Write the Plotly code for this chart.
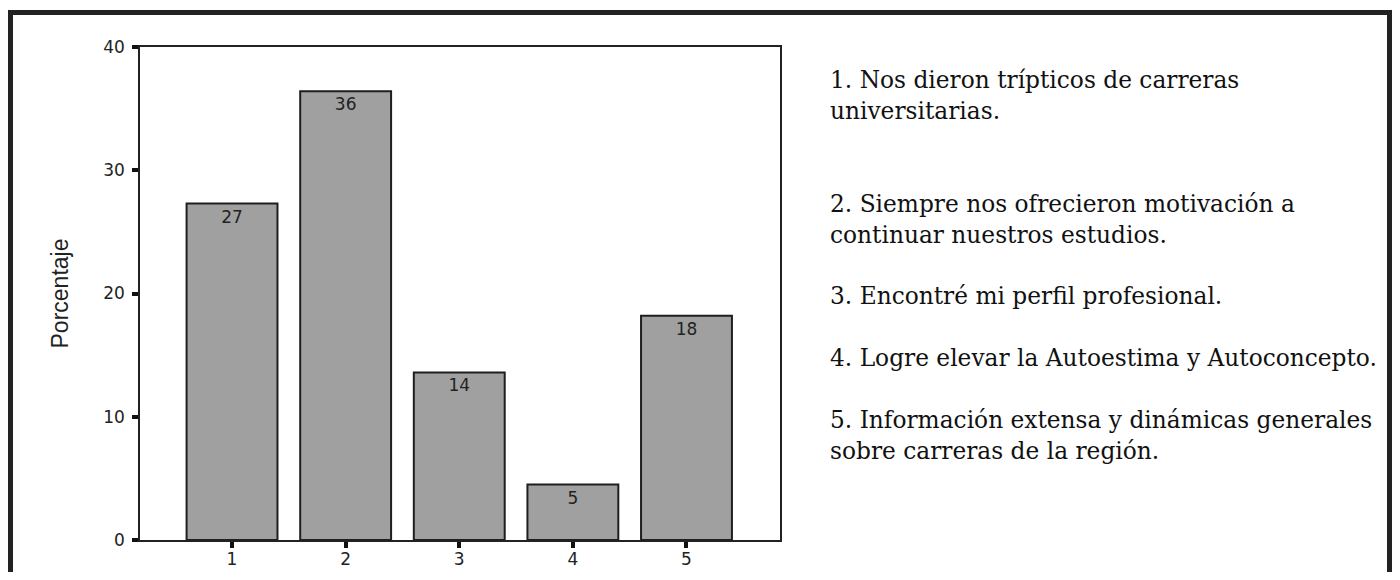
import plotly.graph_objects as go

categories = [1, 2, 3, 4, 5]
percentages = [27.3, 36.4, 13.6, 4.5, 18.2]
bar_labels = ["27", "36", "14", "5", "18"]
y_ticks = [0, 10, 20, 30, 40]
legend_lines = [
    "1. Nos dieron trípticos de carreras",
    "universitarias.",
    "2. Siempre nos ofrecieron motivación a",
    "continuar nuestros estudios.",
    "3. Encontré mi perfil profesional.",
    "4. Logre elevar la Autoestima y Autoconcepto.",
    "5. Información extensa y dinámicas generales",
    "sobre carreras de la región.",
]
legend_y_px = [79, 110, 203, 234, 295, 357, 419, 450]

# page body has an 8px margin: figure is drawn at (8, 8); keep it inside the window
OFF = 8
W, H = 1400 - 2 * OFF, 580 - 2 * OFF
L, T = 140 - OFF, 47 - OFF
PR, PB = 780 - OFF, 540 - OFF
R, B = W - PR, H - PB
pw = PR - L
ph = PB - T


def px_x(x):
    return (x - OFF - L) / pw


def px_y(y):
    return (PB - (y - OFF)) / ph


fig = go.Figure()
fig.add_trace(go.Bar(
    x=categories, y=percentages, text=bar_labels,
    textposition="inside", insidetextanchor="end",
    textfont=dict(family="DejaVu Sans", size=17, color="#222222"),
    width=0.80,
    marker=dict(color="#a0a0a0", line=dict(color="#1e1e1e", width=2)),
    hoverinfo="x+y",
))

for txt, ypx in zip(legend_lines, legend_y_px):
    fig.add_annotation(
        xref="paper", yref="paper",
        x=px_x(828), y=px_y(ypx),
        xanchor="left", yanchor="middle",
        text=txt, showarrow=False,
        font=dict(family="DejaVu Serif", size=23.3, color="#111111"),
    )

# outer frame (open at the bottom)
fig.add_shape(
    type="path", xref="paper", yref="paper",
    path="M {x0},{yb} L {x0},{yt} L {x1},{yt} L {x1},{yb}".format(
        x0=px_x(10.5), x1=px_x(1389.5), yt=px_y(12.5), yb=px_y(620)),
    line=dict(color="#222222", width=5),
)

fig.update_layout(
    width=W, height=H,
    margin=dict(l=L, r=R, t=T, b=B, autoexpand=False),
    paper_bgcolor="white", plot_bgcolor="white",
    showlegend=False,
    font=dict(family="DejaVu Sans", size=17, color="#222222"),
)
fig.update_xaxes(
    automargin=False,
    range=[0.19, 5.823], tickvals=categories,
    ticktext=[str(c) for c in categories],
    ticks="outside", ticklen=6, tickwidth=4, tickcolor="#111111",
    ticklabelstandoff=-3,
    showline=True, mirror=True, linecolor="#222222", linewidth=1.5,
    showgrid=False, zeroline=False,
    tickfont=dict(family="DejaVu Sans", size=17, color="#222222"),
)
fig.update_yaxes(
    automargin=False,
    range=[0, 40], tickvals=y_ticks,
    ticks="outside", ticklen=6, tickwidth=4, tickcolor="#111111",
    ticklabelstandoff=4,
    showline=True, mirror=True, linecolor="#222222", linewidth=1.5,
    showgrid=False, zeroline=False,
    title=dict(text="Porcentaje", standoff=28,
               font=dict(family="Liberation Sans, Arial", size=23, color="#222222")),
    tickfont=dict(family="DejaVu Sans", size=17, color="#222222"),
)

fig.write_html("out.html")
